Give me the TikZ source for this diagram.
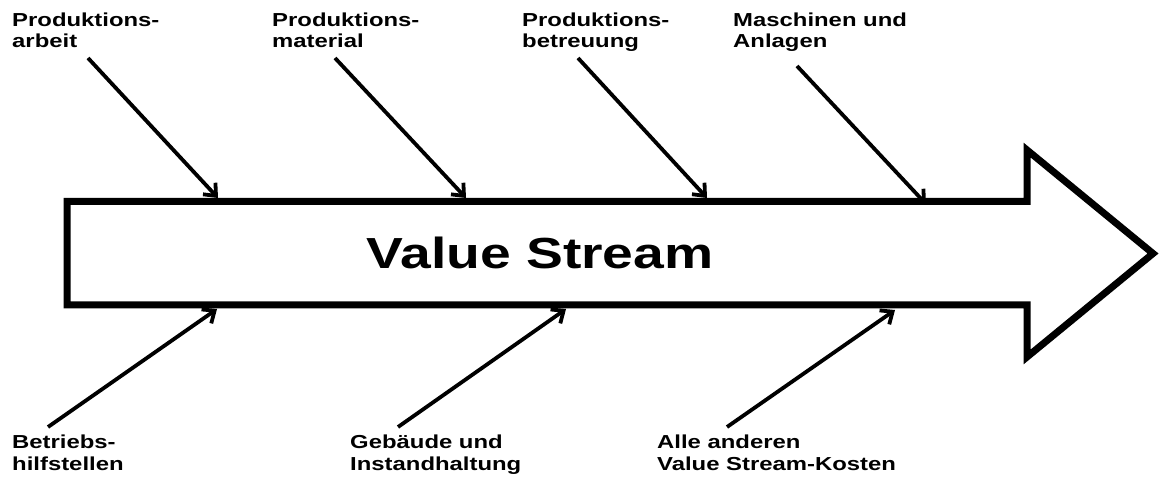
\documentclass[tikz,border=0pt]{standalone}
\usepackage{fontspec}
\setmainfont{Liberation Sans}[FakeStretch=1.27]
\usetikzlibrary{arrows.meta}
\begin{document}
\begin{tikzpicture}[x=1pt,y=-1pt,
  lbl/.style={anchor=north west,inner sep=0pt,align=left,
    font=\fontsize{18.8}{21.5}\selectfont\bfseries},
  title/.style={anchor=base,inner sep=0pt,font=\fontsize{43.5}{48}\selectfont\bfseries},
  feed/.style={line width=3.8pt,-{Straight Barb[length=10pt,width=17pt,line width=3.8pt]}},
  body/.style={line width=7pt,miter limit=10,line join=miter}]
\useasboundingbox (0,0) rectangle (1160,481);
\fill[white] (0,0) rectangle (1160,481);
% big arrow
\draw[body] (67,201.5) -- (1027,201.5) -- (1027,150) -- (1153,253.5) -- (1027,357) -- (1027,305) -- (67,305) -- cycle;
\node[title] (vs) at (540,268.5) {Value Stream};
% top labels
\node[lbl] (t1) at (12,12.5) {Produktions-\\arbeit};
\node[lbl] (t2) at (272,12.5) {Produktions-\\material};
\node[lbl] (t3) at (522,12.5) {Produktions-\\betreuung};
\node[lbl] (t4) at (733,12.5) {Maschinen und\\Anlagen};
% bottom labels
\node[lbl] (b1) at (12,435) {Betriebs-\\hilfstellen};
\node[lbl] (b2) at (350,435) {Gebäude und\\Instandhaltung};
\node[lbl] (b3) at (657,435) {Alle anderen\\Value Stream-Kosten};
% connector ends
\coordinate (t1s) at (88,58);   \coordinate (t1e) at (218,198);
\coordinate (t2s) at (335,58);  \coordinate (t2e) at (466,198);
\coordinate (t3s) at (578,58);  \coordinate (t3e) at (707,198);
\coordinate (t4s) at (797,66);  \coordinate (t4e) at (926,204);
\coordinate (b1s) at (48,427);  \coordinate (b1e) at (217,309);
\coordinate (b2s) at (398,427); \coordinate (b2e) at (566,309);
\coordinate (b3s) at (727,427); \coordinate (b3e) at (895,310);
\draw[feed] (t1s) -- (t1e);
\draw[feed] (t2s) -- (t2e);
\draw[feed] (t3s) -- (t3e);
\draw[feed] (t4s) -- (t4e);
\draw[feed] (b1s) -- (b1e);
\draw[feed] (b2s) -- (b2e);
\draw[feed] (b3s) -- (b3e);
\end{tikzpicture}
\end{document}
